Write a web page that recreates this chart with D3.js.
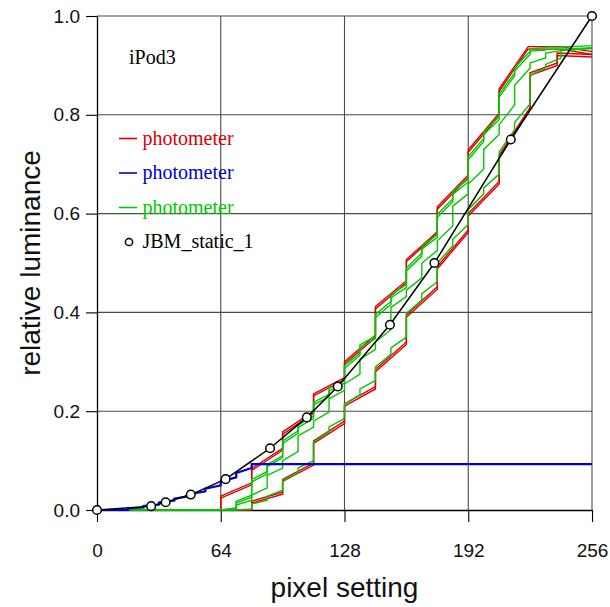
<!DOCTYPE html>
<html>
<head>
<meta charset="utf-8">
<script src="https://cdn.jsdelivr.net/npm/d3@7"></script>
<style>
  html, body { margin: 0; padding: 0; background: #fff; }
  svg { display: block; }
</style>
</head>
<body>
<svg id="chart" width="610" height="607"></svg>
<script>
// ---- axis ticks ----
const xTicks = [0, 64, 128, 192, 256];
const yTicks = [0.0, 0.2, 0.4, 0.6, 0.8, 1.0];

// ---- JBM_static_1 (target curve) ----
const jbmX = [0, 28, 35.5, 48.5, 66.5, 89.5, 108.5, 124.5, 151.5, 174.5, 214, 256];
const jbmY = [0, 0.0078, 0.0156, 0.03125, 0.0625, 0.125, 0.1875, 0.25, 0.375, 0.5, 0.75, 1.0];

// ---- red photometer sweeps: ramp within each step, jump at each boundary ----
const redUpperSteps = [64, 80, 96, 112, 128, 144, 160, 176, 192, 208, 223];
const redAStart = [0.028, 0.084, 0.158, 0.235, 0.300, 0.412, 0.507, 0.614, 0.729, 0.853];
const redAEnd   = [0.055, 0.125, 0.200, 0.268, 0.354, 0.464, 0.563, 0.678, 0.803, 0.938];
const redATailX = [240, 256];
const redATailY = [0.938, 0.928];

const redBStart = [0.024, 0.080, 0.153, 0.231, 0.296, 0.407, 0.503, 0.609, 0.724, 0.848];
const redBEnd   = [0.051, 0.121, 0.196, 0.264, 0.349, 0.460, 0.559, 0.673, 0.798, 0.933];
const redBTailX = [240, 256];
const redBTailY = [0.933, 0.922];

const redLowerSteps = [80, 96, 112, 128, 144, 160, 176, 192, 208, 224, 238];
const redCStart = [0.018, 0.062, 0.140, 0.215, 0.285, 0.395, 0.493, 0.600, 0.718, 0.885];
const redCEnd   = [0.036, 0.095, 0.180, 0.250, 0.340, 0.452, 0.567, 0.665, 0.815, 0.905];
const redCTailX = [238, 256];
const redCTailY = [0.925, 0.922];

const redDStart = [0.014, 0.058, 0.135, 0.210, 0.280, 0.390, 0.488, 0.595, 0.713, 0.880];
const redDEnd   = [0.032, 0.091, 0.175, 0.245, 0.335, 0.447, 0.562, 0.660, 0.810, 0.900];
const redDTailX = [238, 256];
const redDTailY = [0.920, 0.917];

// ---- green photometer sweeps: finer steps ----
const greenSteps = [64, 72, 80, 88, 96, 104, 112, 120, 128, 136, 144, 152, 160, 168, 176, 184, 192, 200, 208, 216, 224, 232, 240];
const greenAStart = [0, 0.018, 0.062, 0.092, 0.140, 0.172, 0.218, 0.246, 0.292, 0.334, 0.396, 0.436, 0.490, 0.534, 0.598, 0.645, 0.715, 0.766, 0.842, 0.895, 0.934, 0.937];
const greenAEnd   = [0.003, 0.030, 0.078, 0.110, 0.160, 0.190, 0.234, 0.262, 0.318, 0.352, 0.422, 0.456, 0.520, 0.558, 0.630, 0.670, 0.752, 0.796, 0.885, 0.928, 0.936, 0.937];
const greenATailX = [256];
const greenATailY = [0.940];

const greenBStart = [0, 0.014, 0.057, 0.088, 0.135, 0.167, 0.213, 0.241, 0.287, 0.329, 0.390, 0.430, 0.484, 0.528, 0.592, 0.639, 0.709, 0.760, 0.836, 0.889, 0.929, 0.933];
const greenBEnd   = [0.002, 0.026, 0.073, 0.106, 0.155, 0.185, 0.229, 0.257, 0.313, 0.347, 0.416, 0.450, 0.514, 0.552, 0.624, 0.664, 0.746, 0.790, 0.879, 0.922, 0.931, 0.933];
const greenBTailX = [256];
const greenBTailY = [0.936];

const greenCStart = [0, 0.010, 0.030, 0.070, 0.100, 0.150, 0.180, 0.225, 0.255, 0.305, 0.340, 0.410, 0.445, 0.500, 0.545, 0.615, 0.660, 0.730, 0.780, 0.860, 0.905, 0.925];
const greenCEnd   = [0.004, 0.020, 0.045, 0.085, 0.118, 0.168, 0.198, 0.242, 0.275, 0.325, 0.365, 0.432, 0.470, 0.525, 0.575, 0.640, 0.690, 0.760, 0.820, 0.895, 0.915, 0.930];
const greenCTailX = [256];
const greenCTailY = [0.934];

const greenDStart = [0, 0, 0.012, 0.028, 0.060, 0.085, 0.138, 0.168, 0.215, 0.245, 0.290, 0.328, 0.398, 0.438, 0.500, 0.548, 0.608, 0.652, 0.725, 0.785, 0.880, 0.902];
const greenDEnd   = [0, 0.002, 0.020, 0.040, 0.075, 0.100, 0.158, 0.185, 0.233, 0.262, 0.315, 0.350, 0.425, 0.462, 0.535, 0.578, 0.640, 0.680, 0.770, 0.822, 0.895, 0.915];
const greenDTailX = [240, 256];
const greenDTailY = [0.930, 0.935];

// ---- blue photometer sweep ----
const blueSteps = [16, 24, 32, 40, 48, 56, 64, 72, 80];
const blueStart = [0.003, 0.008, 0.015, 0.023, 0.032, 0.043, 0.058, 0.075];
const blueEnd   = [0.005, 0.011, 0.019, 0.028, 0.038, 0.050, 0.066, 0.085];
const blueTailX = [80, 256];
const blueTailY = [0.093, 0.093];

// ---- legend ----
const legendLabels = ["photometer", "photometer", "photometer", "JBM_static_1"];
const legendColors = ["#dc0000", "#0000d0", "#00c800", "#000000"];
const panelTitle = "iPod3";

// ---- layout ----
const svg = d3.select("#chart");
const x = d3.scaleLinear().domain([0, 256]).range([97, 592]);
const y = d3.scaleLinear().domain([0, 1]).range([510, 16]);

// grid
const grid = svg.append("g").attr("stroke", "#4a4a4a").attr("stroke-width", 1.1);
xTicks.filter(d => d > 0).forEach(d => {
  grid.append("line").attr("x1", x(d)).attr("x2", x(d)).attr("y1", y(0)).attr("y2", y(1));
});
yTicks.filter(d => d > 0).forEach(d => {
  grid.append("line").attr("x1", x(0)).attr("x2", x(256)).attr("y1", y(d)).attr("y2", y(d));
});

// axes
const axisFont = "'Liberation Sans', Arial, Helvetica, sans-serif";
const yAxis = svg.append("g").attr("transform", `translate(${x(0)},0)`)
  .call(d3.axisLeft(y).tickValues(yTicks).tickFormat(d3.format(".1f")).tickSize(11).tickSizeOuter(0).tickPadding(6));
const xAxis = svg.append("g").attr("transform", `translate(0,${y(0)})`)
  .call(d3.axisBottom(x).tickValues(xTicks).tickFormat(d3.format("d")).tickSize(12).tickSizeOuter(0).tickPadding(22));
[xAxis, yAxis].forEach(g => {
  g.selectAll("path.domain").attr("stroke", "#000").attr("stroke-width", 1.3);
  g.selectAll(".tick line").attr("stroke", "#000").attr("stroke-width", 1.1);
  g.selectAll(".tick text").attr("fill", "#111").style("font-family", axisFont).style("font-size", "19px");
});

// staircase path built from step boundaries and ramp values
function stepPoints(steps, starts, ends, tailX, tailY) {
  const pts = [[0, 0], [steps[0], starts.length && ends.length ? 0 : 0]];
  for (let i = 0; i < starts.length; i++) {
    pts.push([steps[i], starts[i]]);
    pts.push([steps[i + 1], ends[i]]);
  }
  for (let i = 0; i < tailX.length; i++) pts.push([tailX[i], tailY[i]]);
  return pts;
}
const line = d3.line().x(d => x(d[0])).y(d => y(d[1]));

const traces = [
  { pts: stepPoints(redUpperSteps, redAStart, redAEnd, redATailX, redATailY), color: legendColors[0] },
  { pts: stepPoints(redUpperSteps, redBStart, redBEnd, redBTailX, redBTailY), color: legendColors[0] },
  { pts: stepPoints(redLowerSteps, redCStart, redCEnd, redCTailX, redCTailY), color: legendColors[0] },
  { pts: stepPoints(redLowerSteps, redDStart, redDEnd, redDTailX, redDTailY), color: legendColors[0] },
  { pts: stepPoints(greenSteps, greenAStart, greenAEnd, greenATailX, greenATailY), color: legendColors[2] },
  { pts: stepPoints(greenSteps, greenBStart, greenBEnd, greenBTailX, greenBTailY), color: legendColors[2] },
  { pts: stepPoints(greenSteps, greenCStart, greenCEnd, greenCTailX, greenCTailY), color: legendColors[2] },
  { pts: stepPoints(greenSteps, greenDStart, greenDEnd, greenDTailX, greenDTailY), color: legendColors[2] },
  { pts: stepPoints(blueSteps, blueStart, blueEnd, blueTailX, blueTailY), color: legendColors[1], width: 2.2 }
];
svg.append("g").selectAll("path").data(traces).join("path")
  .attr("d", d => line(d.pts))
  .attr("fill", "none")
  .attr("stroke", d => d.color)
  .attr("stroke-width", d => d.width || 1.4)
  .attr("stroke-linejoin", "miter");

// JBM_static_1 line + markers
const jbm = jbmX.map((v, i) => [v, jbmY[i]]);
svg.append("path").attr("d", line(jbm)).attr("fill", "none").attr("stroke", "#000").attr("stroke-width", 1.5);
svg.append("g").selectAll("circle").data(jbm).join("circle")
  .attr("cx", d => x(d[0])).attr("cy", d => y(d[1])).attr("r", 4.3)
  .attr("fill", "#fff").attr("stroke", "#000").attr("stroke-width", 1.5);

// axis titles
svg.append("text").attr("x", (x(0) + x(256)) / 2).attr("y", 597)
  .attr("text-anchor", "middle").style("font-family", axisFont).style("font-size", "28px").attr("fill", "#111")
  .text("pixel setting");
svg.append("text").attr("transform", `translate(40,${(y(0) + y(1)) / 2}) rotate(-90)`)
  .attr("text-anchor", "middle").style("font-family", axisFont).style("font-size", "28px").attr("fill", "#111")
  .text("relative luminance");

// panel title and legend
const serif = "'Liberation Serif', 'Times New Roman', Times, serif";
svg.append("text").attr("x", 129).attr("y", 64).style("font-family", serif).style("font-size", "20px")
  .attr("fill", "#000").text(panelTitle);

const legend = svg.append("g");
legendLabels.forEach((lab, i) => {
  const cy = 138.5 + i * 34.5;
  if (i < 3) {
    legend.append("line").attr("x1", 119).attr("x2", 137).attr("y1", cy).attr("y2", cy)
      .attr("stroke", legendColors[i]).attr("stroke-width", 1.6);
  } else {
    legend.append("circle").attr("cx", 129).attr("cy", cy).attr("r", 3.6)
      .attr("fill", "#fff").attr("stroke", "#000").attr("stroke-width", 1.5);
  }
  legend.append("text").attr("x", 142.5).attr("y", cy + 6).style("font-family", serif).style("font-size", "20px")
    .attr("fill", legendColors[i]).text(lab);
});
</script>
</body>
</html>
